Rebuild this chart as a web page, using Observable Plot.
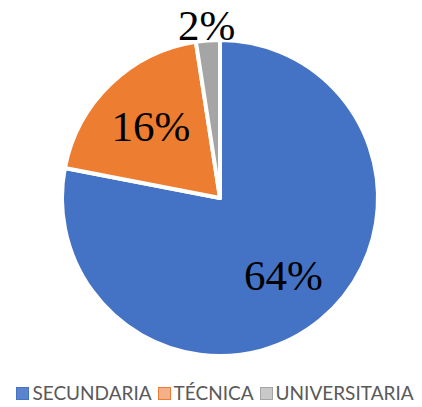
<!DOCTYPE html>
<html><head><meta charset="utf-8">
<script src="https://cdn.jsdelivr.net/npm/d3@7"></script>
<script src="https://cdn.jsdelivr.net/npm/@observablehq/plot@0.6"></script>
<style>
body{margin:0;background:#fff;}
#chart{width:422px;}
.legend{display:flex;justify-content:center;gap:6px;font-family:Lato,"Open Sans",sans-serif;font-size:19px;line-height:22px;color:#595959;margin-top:10px;padding-left:8px;}
.legend span{display:inline-flex;align-items:center;}
.sw{display:inline-block;width:11px;height:11px;margin-right:3px;border:1.5px solid;}
</style></head>
<body><div id="chart"></div>
<script>
const categories = ["SECUNDARIA", "TÉCNICA", "UNIVERSITARIA"];
const values = [64, 16, 2];
const labels = ["64%", "16%", "2%"];
const colors = ["#4472C4", "#ED7D31", "#A5A5A5"];
const swatchFill = ["#5B84CC", "#F4B08A", "#C9C9C9"];

const data = categories.map((c, i) => ({category: c, value: values[i], label: labels[i]}));
const total = d3.sum(values);
const arcs = d3.pie().sort(null).value(d => d.value)(data);

const W = 422, H = 372;
const pieMark = (index, scales, vals, dims) => {
  const cx = scales.x(0), cy = scales.y(0);
  const R = scales.x(1) - scales.x(0);
  const g = d3.create("svg:g").attr("transform", `translate(${cx},${cy})`);
  const arc = d3.arc().innerRadius(0).outerRadius(R);
  g.selectAll("path").data(arcs).join("path")
    .attr("d", arc)
    .attr("fill", d => scales.color(d.data.category))
    .attr("stroke", "#fff").attr("stroke-width", 4).attr("stroke-linejoin", "round");
  g.selectAll("text").data(arcs).join("text")
    .attr("transform", d => {
      const a = (d.startAngle + d.endAngle) / 2;
      const k = d.value / total < 0.05 ? 1.1 : 0.63;
      return `translate(${Math.sin(a) * R * k},${-Math.cos(a) * R * k})`;
    })
    .attr("text-anchor", "middle").attr("dy", "0.35em")
    .attr("font-family", "'Liberation Serif', 'Times New Roman', serif")
    .attr("font-size", 43)
    .attr("fill", "#000")
    .text(d => d.data.label);
  return g.node();
};

const plot = Plot.plot({
  width: W, height: H,
  margin: 0,
  x: {domain: [-1, 1], range: [220 - 158, 220 + 158], axis: null},
  y: {domain: [-1, 1], range: [198 + 158, 198 - 158], axis: null},
  color: {domain: categories, range: colors},
  marks: [
    Plot.dot(data, {x: () => 0, y: () => 0, r: 0, fill: "category"}),
    pieMark
  ]
});
document.getElementById("chart").appendChild(plot);

const leg = d3.select("#chart").append("div").attr("class", "legend");
categories.forEach((c, i) => {
  const s = leg.append("span");
  s.append("span").attr("class", "sw").style("background", swatchFill[i]).style("border-color", colors[i]);
  s.append("span").text(c);
});
</script></body></html>
